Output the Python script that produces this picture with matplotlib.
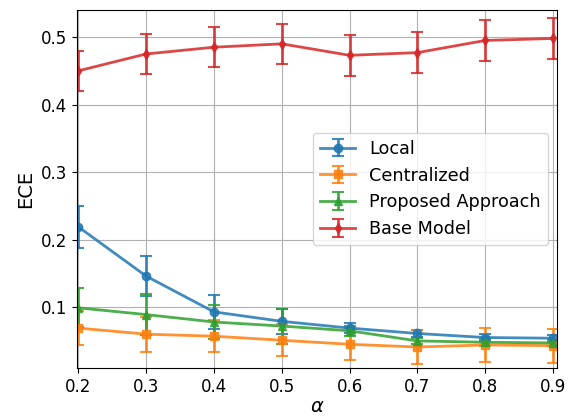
import matplotlib
matplotlib.use("Agg")
import matplotlib.pyplot as plt

alpha = [0.2, 0.3, 0.4, 0.5, 0.6, 0.7, 0.8, 0.9]

local = [0.219, 0.146, 0.093, 0.079, 0.069, 0.061, 0.055, 0.054]
local_err = [0.031, 0.030, 0.025, 0.019, 0.007, 0.005, 0.005, 0.005]

central = [0.069, 0.060, 0.057, 0.051, 0.045, 0.041, 0.044, 0.043]
central_err = [0.025, 0.026, 0.024, 0.024, 0.024, 0.025, 0.025, 0.025]

proposed = [0.099, 0.089, 0.078, 0.072, 0.065, 0.050, 0.048, 0.047]
proposed_err = [0.029, 0.030, 0.025, 0.026, 0.007, 0.005, 0.005, 0.005]

base = [0.450, 0.475, 0.485, 0.490, 0.473, 0.477, 0.495, 0.498]
base_err = [0.030, 0.030, 0.030, 0.030, 0.030, 0.030, 0.030, 0.030]

plt.rcParams['font.size'] = 12
fig = plt.figure(figsize=(5.74, 4.2), dpi=100)
ax = fig.add_axes([0.134, 0.124, 0.836, 0.852])

kw = dict(capsize=4, linewidth=2, elinewidth=2, capthick=1.5, alpha=0.85)
ax.errorbar(alpha, local, yerr=local_err, marker='o', markersize=6, color='tab:blue', label='Local', **kw)
ax.errorbar(alpha, central, yerr=central_err, marker='s', markersize=6, color='tab:orange', label='Centralized', **kw)
ax.errorbar(alpha, proposed, yerr=proposed_err, marker='^', markersize=6, color='tab:green', label='Proposed Approach', **kw)
ax.errorbar(alpha, base, yerr=base_err, marker='d', markersize=5, color='tab:red', label='Base Model', **kw)

ax.set_xlim(0.198, 0.9055)
ax.set_ylim(0.010, 0.540)
ax.set_xticks(alpha)
ax.set_yticks([0.1, 0.2, 0.3, 0.4, 0.5])
ax.grid(True, color='#b0b0b0', linewidth=0.8)
ax.set_xlabel(r'$\alpha$', fontsize=14, labelpad=1)
ax.set_ylabel('ECE', fontsize=14)
ax.legend(loc='center right', fontsize=12.7)

fig.savefig('out.png', dpi=100)
